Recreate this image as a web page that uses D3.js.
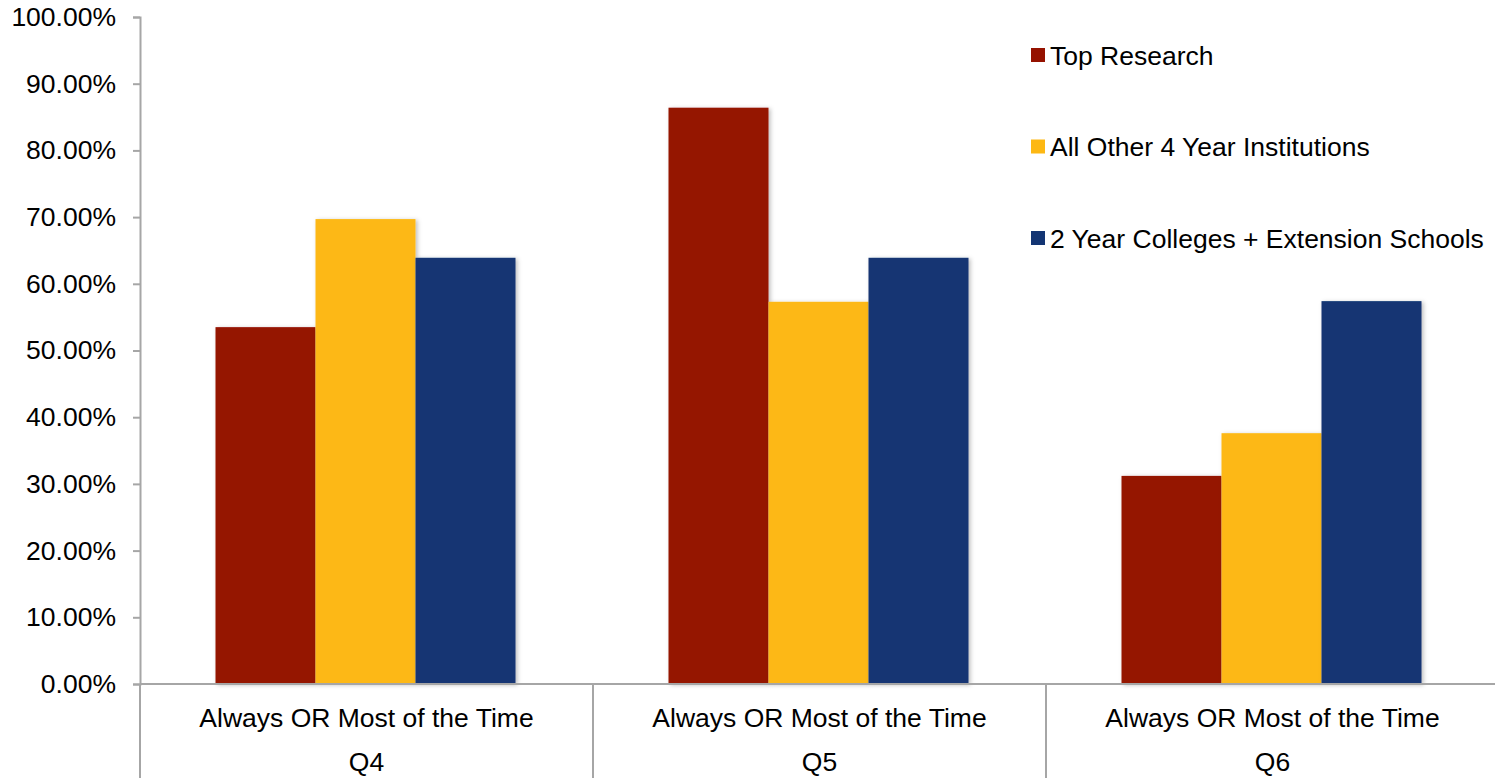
<!DOCTYPE html>
<html>
<head>
<meta charset="utf-8">
<script src="https://cdn.jsdelivr.net/npm/d3@7"></script>
<style>
  body { margin: 0; background: #fff; overflow: hidden; }
  text { font-family: "Liberation Sans", Arial, sans-serif; }
</style>
</head>
<body>
<script>
(function(){
  var canvasWidth = 1495;
  var canvasHeight = 778;

  // data
  var categories = ["Q4", "Q5", "Q6"];
  var categoryLabel = "Always OR Most of the Time";
  var series = ["Top Research", "All Other 4 Year Institutions", "2 Year Colleges + Extension Schools"];
  var topResearch = [0.535, 0.864, 0.312];
  var otherFourYear = [0.697, 0.573, 0.376];
  var twoYear = [0.639, 0.639, 0.574];
  var yTicks = [0, 0.1, 0.2, 0.3, 0.4, 0.5, 0.6, 0.7, 0.8, 0.9, 1.0];
  var colors = ["#951200", "#FDB813", "#133573"];

  var values = [topResearch, otherFourYear, twoYear];
  var fontSize = "26.5px";

  var svg = d3.select("body").append("svg")
    .attr("width", canvasWidth)
    .attr("height", canvasHeight);

  var axisColor = "#a6a6a6";
  var left = 140, right = 1499, top = 17, bottom = 684;

  var y = d3.scaleLinear().domain([0, 1]).range([bottom, top]);
  var x0 = d3.scaleBand().domain(categories).range([left, right]);
  var x1 = d3.scaleBand().domain(series).range([0, x0.bandwidth()])
    .paddingInner(0).paddingOuter(0.765);

  // shadow filter for bars
  var defs = svg.append("defs");
  var f = defs.append("filter").attr("id", "shadow")
    .attr("x", "-10%").attr("y", "-10%").attr("width", "130%").attr("height", "130%");
  f.append("feDropShadow").attr("dx", 2).attr("dy", 1).attr("stdDeviation", 2)
    .attr("flood-color", "#000").attr("flood-opacity", 0.25);

  // bars
  categories.forEach(function(cat, ci) {
    var g = svg.append("g").attr("transform", "translate(" + (x0(cat) - 1) + ",0)");
    series.forEach(function(s, si) {
      var v = values[si][ci];
      g.append("rect")
        .attr("x", x1(s))
        .attr("y", y(v))
        .attr("width", x1.bandwidth())
        .attr("height", y(0) - y(v))
        .attr("fill", colors[si])
        .attr("filter", "url(#shadow)");
    });
  });

  // y axis
  var yAxis = d3.axisLeft(y).tickValues(yTicks)
    .tickFormat(function(d){ return (d * 100).toFixed(2) + "%"; })
    .tickSize(7).tickPadding(17);
  var ya = svg.append("g").attr("transform", "translate(" + left + ",0)").call(yAxis);
  ya.select(".domain").attr("stroke", axisColor).attr("stroke-width", 2);
  ya.selectAll(".tick line").attr("stroke", axisColor).attr("stroke-width", 2);
  ya.selectAll(".tick text").attr("fill", "#000").style("font-size", fontSize)
    .attr("font-family", "Liberation Sans, Arial, sans-serif");

  // x axis baseline
  svg.append("line")
    .attr("x1", left).attr("x2", canvasWidth)
    .attr("y1", bottom).attr("y2", bottom)
    .attr("stroke", axisColor).attr("stroke-width", 2);

  // category dividers
  categories.forEach(function(cat) {
    svg.append("line")
      .attr("x1", x0(cat)).attr("x2", x0(cat))
      .attr("y1", bottom).attr("y2", canvasHeight)
      .attr("stroke", axisColor).attr("stroke-width", 2);
  });

  // category labels
  categories.forEach(function(cat) {
    var cx = x0(cat) + x0.bandwidth() / 2;
    svg.append("text")
      .attr("x", cx).attr("y", 727)
      .attr("text-anchor", "middle")
      .style("font-size", fontSize)
      .text(categoryLabel);
    svg.append("text")
      .attr("x", cx).attr("y", 771)
      .attr("text-anchor", "middle")
      .style("font-size", fontSize)
      .text(cat);
  });

  // legend
  var legend = svg.append("g").attr("transform", "translate(1031,0)");
  series.forEach(function(s, i) {
    var ly = 55 + i * 91.5;
    legend.append("rect")
      .attr("x", 0).attr("y", ly - 7)
      .attr("width", 14).attr("height", 14)
      .attr("fill", colors[i]);
    legend.append("text")
      .attr("x", 19).attr("y", ly + 9.5)
      .style("font-size", fontSize)
      .text(s);
  });
})();
</script>
</body>
</html>
